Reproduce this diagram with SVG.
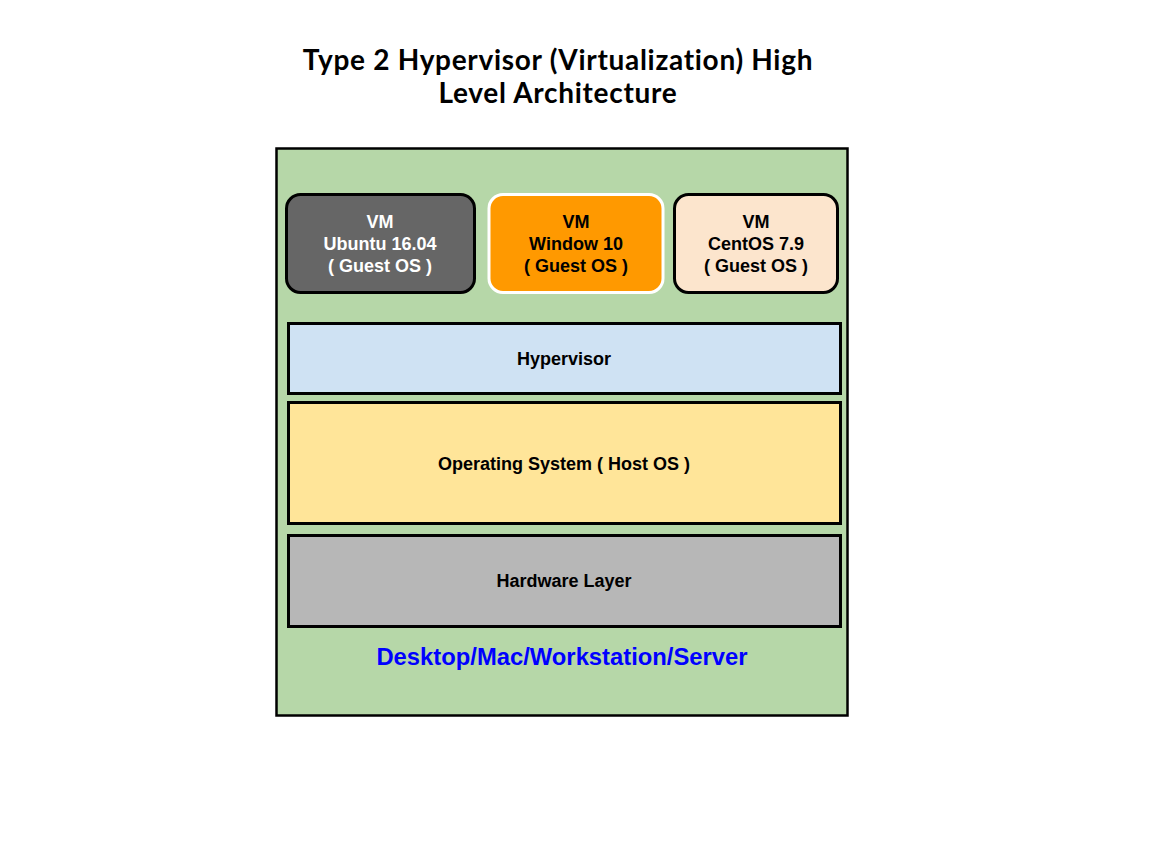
<svg xmlns="http://www.w3.org/2000/svg" width="1152" height="864" viewBox="0 0 1152 864">
<style>
.t{font-family:"Liberation Sans",Arial,sans-serif;font-weight:bold;text-anchor:middle}
.title{font-family:"Lato","Liberation Sans",sans-serif;font-size:28px;letter-spacing:0.7px}
.vm{font-size:18px}
.layer{font-size:18px;fill:#000}
.box{stroke:#000;stroke-width:3}
</style>
<rect width="1152" height="864" fill="#fff"/>
<g id="title">
<text class="t title" x="558" y="70">Type 2 Hypervisor (Virtualization) High</text>
<text class="t title" x="558" y="103">Level Architecture</text>
</g>
<g id="host">
<rect x="276.5" y="148.5" width="571" height="567" fill="#b6d7a8" stroke="#000" stroke-width="2.5"/>
<text class="t" x="562" y="665" font-size="23.8" fill="#0000ff">Desktop/Mac/Workstation/Server</text>
</g>
<g id="vm-ubuntu">
<rect class="box" x="286.5" y="194.5" width="188" height="98" rx="14" fill="#666666"/>
<text class="t vm" x="380" y="228" fill="#fff">VM</text>
<text class="t vm" x="380" y="250" fill="#fff">Ubuntu 16.04</text>
<text class="t vm" x="380" y="272" fill="#fff">( Guest OS )</text>
</g>
<g id="vm-windows">
<rect x="489" y="194.5" width="174" height="98" rx="14" fill="#ff9900" stroke="#fff" stroke-width="3"/>
<text class="t vm" x="576" y="228" fill="#000">VM</text>
<text class="t vm" x="576" y="250" fill="#000">Window 10</text>
<text class="t vm" x="576" y="272" fill="#000">( Guest OS )</text>
</g>
<g id="vm-centos">
<rect class="box" x="674.5" y="194.5" width="163" height="98" rx="14" fill="#fce5cd"/>
<text class="t vm" x="756" y="228" fill="#000">VM</text>
<text class="t vm" x="756" y="250" fill="#000">CentOS 7.9</text>
<text class="t vm" x="756" y="272" fill="#000">( Guest OS )</text>
</g>
<g id="hypervisor">
<rect class="box" x="288.5" y="323.5" width="552" height="70" fill="#cfe2f3"/>
<text class="t layer" x="564" y="365">Hypervisor</text>
</g>
<g id="host-os">
<rect class="box" x="288.5" y="402.5" width="552" height="121" fill="#ffe599"/>
<text class="t layer" x="564" y="470">Operating System ( Host OS )</text>
</g>
<g id="hardware">
<rect class="box" x="288.5" y="535.5" width="552" height="91" fill="#b7b7b7"/>
<text class="t layer" x="564" y="587">Hardware Layer</text>
</g>
<g id="connectors"/>
</svg>
